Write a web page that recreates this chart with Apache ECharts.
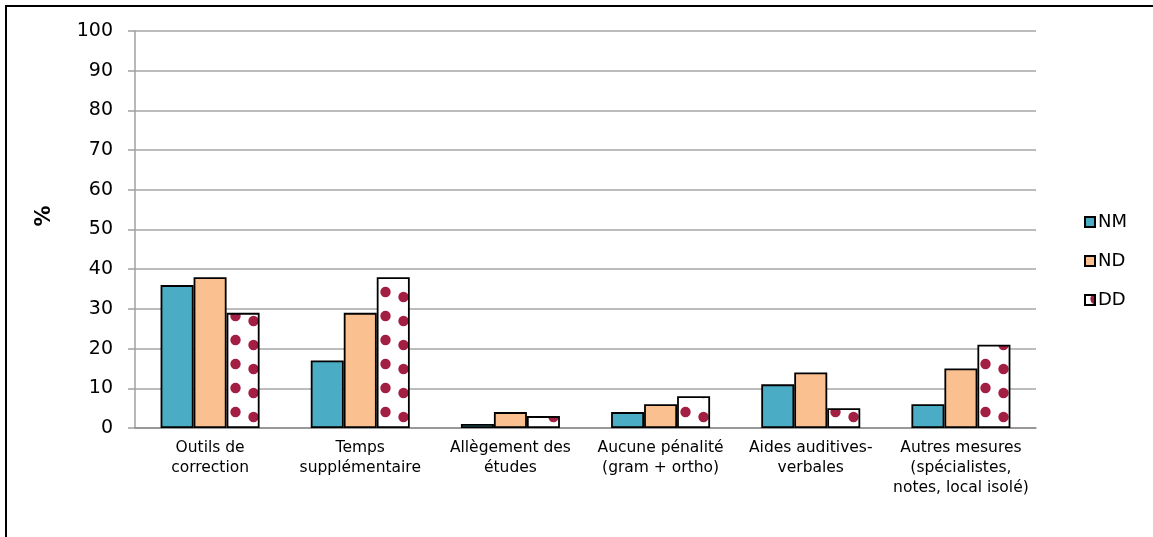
<!DOCTYPE html>
<html>
<head>
<meta charset="utf-8">
<script src="https://cdn.jsdelivr.net/npm/echarts@6/dist/echarts.min.js"></script>
<style>
html,body{margin:0;padding:0;background:#fff;}
#chart{width:1153px;height:537px;}
</style>
</head>
<body>
<div id="chart"></div>
<script>
const categories = [
  "Outils de\ncorrection",
  "Temps\nsupplémentaire",
  "Allègement des\nétudes",
  "Aucune pénalité\n(gram + ortho)",
  "Aides auditives-\nverbales",
  "Autres mesures\n(spécialistes,\nnotes, local isolé)"
];
const seriesNames = ["NM", "ND", "DD"];
const valuesNM = [36, 17, 1, 4, 11, 6];
const valuesND = [38, 29, 4, 6, 14, 15];
const valuesDD = [29, 38, 3, 8, 5, 21];
const yTicks = [0, 10, 20, 30, 40, 50, 60, 70, 80, 90, 100];

function makeDots() {
  const c = document.createElement('canvas');
  c.width = 75; c.height = 24;
  const ctx = c.getContext('2d');
  ctx.fillStyle = '#ffffff';
  ctx.fillRect(0, 0, 75, 24);
  ctx.fillStyle = '#a21e43';
  const dots = [[10.5, 4], [28.5, 9]];
  dots.forEach(([x, y]) => {
    [-24, 0, 24].forEach(dy => {
      ctx.beginPath();
      ctx.arc(x, y + dy, 5.2, 0, Math.PI * 2);
      ctx.fill();
    });
  });
  return c;
}

const chart = echarts.init(document.getElementById('chart'));
const FONT = "'DejaVu Sans', Verdana, sans-serif";
const barStyle = (color) => ({ color: color, borderColor: '#000', borderWidth: 1.8 });

chart.setOption({
  animation: false,
  backgroundColor: '#fff',
  textStyle: { fontFamily: FONT },
  grid: { left: 135, right: 117, top: 31, bottom: 109, containLabel: false },
  legend: {
    orient: 'vertical',
    left: 1079,
    top: 208,
    itemWidth: 10,
    itemHeight: 10,
    itemGap: 21,
    icon: 'rect',
    data: seriesNames,
    textStyle: { fontFamily: FONT, fontSize: 18, color: '#000', lineHeight: 18, padding: [0, 0, 0, -2] }
  },
  xAxis: {
    type: 'category',
    data: categories,
    axisLine: { lineStyle: { color: '#8c8c8c', width: 1.5 } },
    axisTick: { show: false },
    axisLabel: {
      interval: 0,
      margin: 10,
      fontSize: 15.5,
      lineHeight: 20,
      color: '#000',
      fontFamily: FONT
    }
  },
  yAxis: {
    type: 'value',
    min: 0,
    max: 100,
    interval: 10,
    axisLine: { show: true, lineStyle: { color: '#a0a0a0', width: 1.5 } },
    axisTick: { show: true, length: 7, lineStyle: { color: '#a0a0a0', width: 1.5 } },
    splitLine: { lineStyle: { color: '#a6a6a6', width: 1.5 } },
    axisLabel: {
      margin: 22,
      fontSize: 19,
      color: '#000',
      fontFamily: FONT,
      formatter: (v) => (yTicks.indexOf(v) >= 0 ? String(v) : '')
    }
  },
  graphic: [
    {
      type: 'rect',
      z: -10,
      shape: { x: 6, y: 6, width: 1300, height: 700 },
      style: { fill: 'none', stroke: '#000', lineWidth: 2 }
    },
    {
      type: 'text',
      x: 45,
      y: 216,
      rotation: Math.PI / 2,
      style: {
        text: '%',
        fontFamily: FONT,
        fontSize: 21,
        fontWeight: 'bold',
        fill: '#000',
        align: 'center',
        verticalAlign: 'middle'
      }
    }
  ],
  series: [
    { name: 'NM', type: 'bar', data: valuesNM, barWidth: 33, barGap: '0%', itemStyle: barStyle('#4bacc6') },
    { name: 'ND', type: 'bar', data: valuesND, barWidth: 33, barGap: '0%', itemStyle: barStyle('#fac090') },
    { name: 'DD', type: 'bar', data: valuesDD, barWidth: 33, barGap: '0%', itemStyle: barStyle({ image: makeDots(), repeat: 'repeat' }) }
  ]
});
</script>
</body>
</html>
